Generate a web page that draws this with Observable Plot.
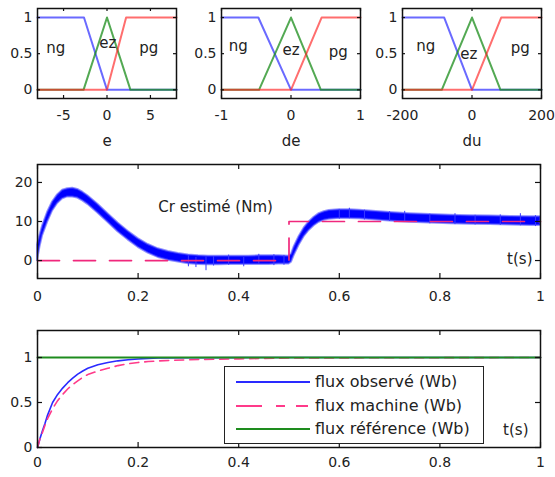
<!DOCTYPE html>
<html><head><meta charset="utf-8">
<script src="https://cdn.jsdelivr.net/npm/d3@7"></script>
<script src="https://cdn.jsdelivr.net/npm/@observablehq/plot@0.6"></script>
<style>
body{margin:0;background:#fff;}
#root{position:relative;width:555px;height:477px;overflow:hidden;background:#fff;font-family:"DejaVu Sans",sans-serif;}
#root svg.panel{position:absolute;overflow:visible;background:transparent;}
.legend{position:absolute;box-sizing:border-box;background:#fff;border:1.6px solid #222;}
.legend .row{position:absolute;left:0;height:20px;font-size:16px;color:#222;white-space:nowrap;}
.legend .row svg{position:absolute;left:11px;top:0;}
.legend .row span{position:absolute;left:90px;top:0;line-height:20px;}
</style></head><body><div id="root"></div>
<script>
// ---------- membership functions (top row) ----------
const mfNames = ["ng", "ez", "pg"];
const ngMu = [1, 1, 0, 0];
const ezMu = [0, 0, 1, 0, 0];
const pgMu = [0, 0, 1, 1];
const eNgX = [-8, -2.65, 0, 8];
const eEzX = [-8, -2.7, 0, 2.7, 8];
const ePgX = [-8, 0, 2.2, 8];
const deNgX = [-1, -0.47, 0, 1];
const deEzX = [-1, -0.46, 0, 0.43, 1];
const dePgX = [-1, 0, 0.44, 1];
const duNgX = [-200, -80, 0, 200];
const duEzX = [-200, -87, 0, 82, 200];
const duPgX = [-200, 0, 84, 200];
const eTicks = [-5, 0, 5];
const deTicks = [-1, 0, 1];
const duTicks = [-200, 0, 200];
const muTicks = [0, 0.5, 1];
const eLabelX = [-5.9, 0.1, 4.8], eLabelY = [0.58, 0.64, 0.58];
const deLabelX = [-0.76, 0.0, 0.68], deLabelY = [0.61, 0.55, 0.52];
const duLabelX = [-133, -9, 139], duLabelY = [0.61, 0.49, 0.57];

// ---------- estimated load torque (middle) ----------
const crT  = [0,0.005,0.01,0.02,0.03,0.04,0.05,0.06,0.07,0.08,0.09,0.10,0.12,0.14,0.16,0.18,0.20,0.22,0.24,0.26,0.28,0.30,0.32,0.34,0.36,0.38,0.40,0.42,0.44,0.46,0.48,0.50,0.505,0.51,0.52,0.53,0.54,0.55,0.56,0.57,0.58,0.60,0.62,0.64,0.66,0.68,0.70,0.74,0.78,0.82,0.86,0.90,0.94,0.98,1.0];
const crLo = [0,3.5,6.3,9.8,12.7,14.6,15.8,16.3,16.3,16.0,15.3,14.4,12.2,9.8,7.4,5.3,3.4,1.9,0.8,0.1,-0.4,-0.8,-1.0,-1.1,-1.1,-1.0,-1.0,-1.0,-1.0,-1.0,-0.9,-0.9,-0.4,1.2,3.9,6.1,7.7,8.9,9.8,10.3,10.6,10.8,10.8,10.7,10.5,10.3,10.1,9.8,9.6,9.4,9.3,9.2,9.1,9.0,9.0];
const crHi = [4,6.5,8.8,12.3,15.0,16.8,18.0,18.4,18.5,18.2,17.5,16.6,14.4,12.0,9.6,7.5,5.6,4.1,3.0,2.3,1.8,1.4,1.2,1.1,1.1,1.1,1.1,1.1,1.2,1.2,1.2,1.1,1.6,3.4,6.1,8.3,9.9,11.1,12.0,12.5,12.8,13.0,13.0,12.9,12.7,12.5,12.3,12.0,11.8,11.6,11.5,11.4,11.3,11.2,11.2];
const spikeT  = [0.30,0.315,0.335,0.35,0.38,0.41,0.44,0.47,0.49,0.60,0.62,0.65,0.70,0.73,0.78,0.83,0.87,0.92,0.96,0.99];
const spikeLo = [-1.6,-1.8,-2.6,-1.4,-1.2,-1.6,-1.0,-1.3,-1.2,10.6,10.7,10.4,10.0,9.8,9.4,9.2,9.1,9.0,8.9,8.7];
const spikeHi = [1.2,0.8,0.9,1.0,1.4,0.8,1.6,1.5,1.3,13.1,13.4,12.9,12.5,12.6,11.9,12.0,11.6,11.7,12.0,11.5];
const crRefT = [0, 0.5, 0.5, 1];
const crRefV = [0, 0, 10, 10];
const timeTicks = [0, 0.2, 0.4, 0.6, 0.8, 1];
const crTicks = [0, 10, 20];
const crLabelT = [0.354], crLabelV = [13.6], crLabelText = ["Cr estimé (Nm)"];

// ---------- flux (bottom) ----------
const fluxT    = [0,0.005,0.01,0.015,0.02,0.03,0.04,0.05,0.06,0.07,0.08,0.09,0.10,0.12,0.14,0.16,0.18,0.20,0.22,0.24,0.30,0.40,0.50,1.0];
const fluxObs  = [0,0.10,0.19,0.27,0.36,0.50,0.59,0.66,0.72,0.77,0.815,0.85,0.88,0.92,0.945,0.963,0.975,0.984,0.99,0.994,0.997,0.999,1,1];
const fluxMach = [0,0.10,0.17,0.25,0.32,0.43,0.52,0.59,0.65,0.70,0.74,0.78,0.81,0.85,0.88,0.91,0.93,0.945,0.955,0.962,0.975,0.985,0.995,1];
const fluxRefT = [0, 1];
const fluxRefV = [1, 1];
const fluxTicks = [0, 0.5, 1];
const legendNames = ["flux observé (Wb)", "flux machine (Wb)", "flux référence (Wb)"];

// ---------- helpers ----------
const FONT = "DejaVu Sans";
const fmt = d => String(d);
function boxTicks(xt, yt, fw, fh, len) {
  return [
    Plot.tickX(xt, {x: d => d, insetTop: fh - len, stroke: "#111", strokeWidth: 1.2}),
    Plot.tickX(xt, {x: d => d, insetBottom: fh - len, stroke: "#111", strokeWidth: 1.2}),
    Plot.tickY(yt, {y: d => d, insetRight: fw - len, stroke: "#111", strokeWidth: 1.2}),
    Plot.tickY(yt, {y: d => d, insetLeft: fw - len, stroke: "#111", strokeWidth: 1.2})
  ];
}
function place(svg, left, top) {
  svg.classList.add("panel");
  svg.style.left = left + "px";
  svg.style.top = top + "px";
  document.getElementById("root").appendChild(svg);
}
const pts = (xs, ys) => xs.map((x, i) => ({x, y: ys[i]}));

function mfPanel(ngX, ezX, pgX, dom, ticks, lx, ly, name, left, width) {
  const mL = 37, mR = width - 37 - 139, mT = 8, mB = 52, H = 150;
  const fw = width - mL - mR, fh = H - mT - mB;
  const svg = Plot.plot({
    width, height: H, marginLeft: mL, marginRight: mR, marginTop: mT, marginBottom: mB,
    style: {fontFamily: FONT, fontSize: "14px", background: "transparent", color: "#222"},
    x: {domain: dom, ticks, tickSize: 0, tickPadding: 12, tickFormat: fmt, label: null},
    y: {domain: [-0.12, 1.125], ticks: muTicks, tickSize: 0, tickPadding: 5, tickFormat: fmt, label: null},
    marks: [
      Plot.line(pts(ngX, ngMu), {x: "x", y: "y", stroke: "#2b2bff", strokeWidth: 2, strokeOpacity: 0.7}),
      Plot.line(pts(ezX, ezMu), {x: "x", y: "y", stroke: "#1a8c1a", strokeWidth: 2, strokeOpacity: 0.75}),
      Plot.line(pts(pgX, pgMu), {x: "x", y: "y", stroke: "#ff2020", strokeWidth: 2, strokeOpacity: 0.65}),
      Plot.text(mfNames, {x: (d, i) => lx[i], y: (d, i) => ly[i], text: d => d, fontSize: 15, fill: "#222"}),
      ...boxTicks(ticks, muTicks, fw, fh, 3),
      Plot.frame({stroke: "#111", strokeWidth: 1.5}),
      Plot.text([name], {frameAnchor: "bottom", dy: 47, text: d => d, fontSize: 15, fill: "#222"})
    ]
  });
  place(svg, left, 0);
}
mfPanel(eNgX, eEzX, ePgX, [-8, 8], eTicks, eLabelX, eLabelY, "e", 0, 185);
mfPanel(deNgX, deEzX, dePgX, [-1, 1], deTicks, deLabelX, deLabelY, "de", 184, 185);
mfPanel(duNgX, duEzX, duPgX, [-200, 200], duTicks, duLabelX, duLabelY, "du", 365, 190);

// ---------- middle panel ----------
{
  const W = 555, H = 160, mL = 37, mR = 15, mT = 14, mB = 32;
  const band = crT.map((t, i) => ({t, lo: crLo[i], hi: crHi[i]}));
  const spikes = spikeT.map((t, i) => ({t, lo: spikeLo[i], hi: spikeHi[i]}));
  const svg = Plot.plot({
    width: W, height: H, marginLeft: mL, marginRight: mR, marginTop: mT, marginBottom: mB,
    style: {fontFamily: FONT, fontSize: "14px", background: "transparent", color: "#222"},
    x: {domain: [0, 1], ticks: timeTicks, tickSize: 0, tickPadding: 13, tickFormat: fmt, label: null},
    y: {domain: [-4.6, 24.6], ticks: crTicks, tickSize: 0, tickPadding: 5, tickFormat: fmt, label: null},
    marks: [
      Plot.areaY(band, {x: "t", y1: "lo", y2: "hi", fill: "#0000ff", stroke: "#4d4dff", strokeWidth: 2, strokeOpacity: 0.6}),
      Plot.ruleX(spikes, {x: "t", y1: "lo", y2: "hi", stroke: "#3a3aff", strokeWidth: 1}),
      Plot.line(pts(crRefT, crRefV), {x: "x", y: "y", stroke: "#f0287c", strokeWidth: 1.7, strokeDasharray: "22,14"}),
      Plot.text(crLabelText, {x: (d, i) => crLabelT[i], y: (d, i) => crLabelV[i], text: d => d, fontSize: 15, fill: "#222"}),
      Plot.text(["t(s)"], {frameAnchor: "bottom-right", dx: -8, dy: -15, textAnchor: "end", text: d => d, fontSize: 15, fill: "#222"}),
      ...boxTicks(timeTicks, crTicks, W - mL - mR, H - mT - mB, 5),
      Plot.frame({stroke: "#111", strokeWidth: 1.5})
    ]
  });
  place(svg, 0, 150);
}

// ---------- bottom panel ----------
{
  const W = 555, H = 167, mL = 37, mR = 15, mT = 20, mB = 30;
  const svg = Plot.plot({
    width: W, height: H, marginLeft: mL, marginRight: mR, marginTop: mT, marginBottom: mB,
    style: {fontFamily: FONT, fontSize: "14px", background: "transparent", color: "#222"},
    x: {domain: [0, 1], ticks: timeTicks, tickSize: 0, tickPadding: 10, tickFormat: fmt, label: null},
    y: {domain: [0, 1.3], ticks: fluxTicks, tickSize: 0, tickPadding: 5, tickFormat: fmt, label: null},
    marks: [
      Plot.line(pts(fluxT, fluxObs), {x: "x", y: "y", stroke: "#2a2aff", strokeWidth: 1.6}),
      Plot.line(pts(fluxT, fluxMach), {x: "x", y: "y", stroke: "#ff3a8a", strokeWidth: 1.6, strokeDasharray: "9,6"}),
      Plot.line(pts(fluxRefT, fluxRefV), {x: "x", y: "y", stroke: "#1e8c1e", strokeWidth: 1.8}),
      Plot.text(["t(s)"], {frameAnchor: "bottom-right", dx: -12, dy: -13, textAnchor: "end", text: d => d, fontSize: 15, fill: "#222"}),
      ...boxTicks(timeTicks, fluxTicks, W - mL - mR, H - mT - mB, 5),
      Plot.frame({stroke: "#111", strokeWidth: 1.5})
    ]
  });
  place(svg, 0, 310);
}

// ---------- legend ----------
{
  const root = document.getElementById("root");
  const lg = document.createElement("div");
  lg.className = "legend";
  Object.assign(lg.style, {left: "224px", top: "366px", width: "260px", height: "78px"});
  const styles = [
    {stroke: "#2a2aff", dash: ""},
    {stroke: "#ff3a8a", dash: "26,14,9,11,12"},
    {stroke: "#1e8c1e", dash: ""}
  ];
  const rowTop = [5, 29, 52];
  legendNames.forEach((name, i) => {
    const row = document.createElement("div");
    row.className = "row";
    row.style.top = rowTop[i] + "px";
    row.innerHTML = `<svg width="76" height="20"><line x1="0" x2="74" y1="10" y2="10" stroke="${styles[i].stroke}" stroke-width="2" ${styles[i].dash ? `stroke-dasharray="${styles[i].dash}"` : ""}/></svg><span>${name}</span>`;
    lg.appendChild(row);
  });
  root.appendChild(lg);
}
</script>
</body></html>
